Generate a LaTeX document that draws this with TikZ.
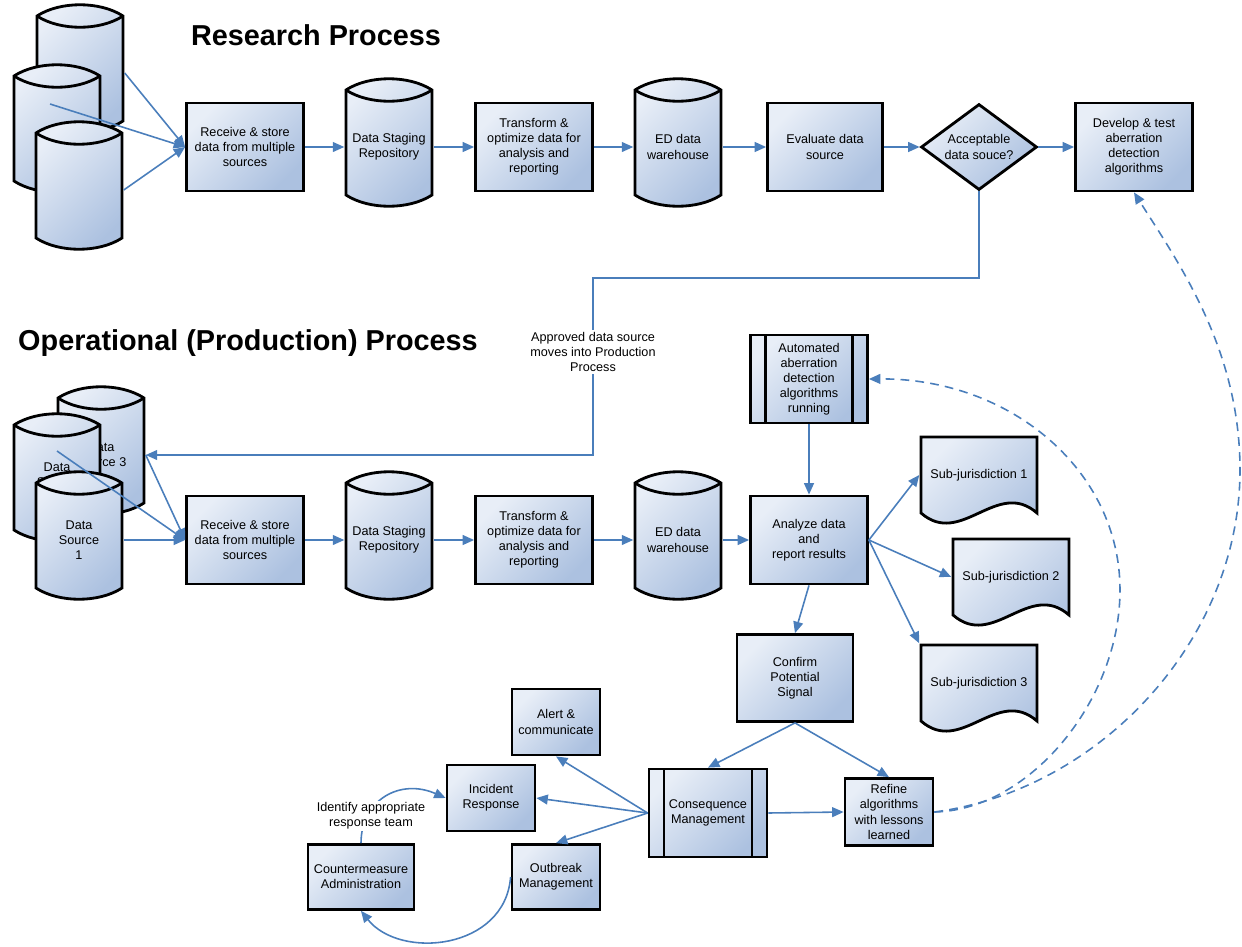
\documentclass[tikz,border=0pt]{standalone}
\usepackage{fontspec}
\setmainfont{Liberation Sans}
\usetikzlibrary{arrows.meta,shapes.geometric}

\definecolor{linkblue}{RGB}{74,126,187}
\definecolor{boxlight}{RGB}{232,238,247}
\definecolor{boxdark}{RGB}{172,193,224}
\newcommand{\boxfont}{\fontsize{7.2pt}{8.6pt}\selectfont}
\newcommand{\titlefont}{\fontsize{16.4pt}{19pt}\selectfont\bfseries}

\tikzset{
  box/.style={draw, line width=1.6pt, top color=boxlight, bottom color=boxdark,
    shading angle=45, align=center, font=\boxfont, inner sep=1pt,
    minimum width=2.34cm, minimum height=1.76cm},
  smallbox/.style={box, minimum width=1.76cm, minimum height=1.32cm},
  subproc/.style={box, path picture={
    \draw[line width=1.6pt]
      ([xshift=0.3cm]path picture bounding box.north west) -- ([xshift=0.3cm]path picture bounding box.south west)
      ([xshift=-0.3cm]path picture bounding box.north east) -- ([xshift=-0.3cm]path picture bounding box.south east);}},
  dbbody/.style={draw, line width=1.6pt, top color=boxlight, bottom color=boxdark, shading angle=45},
  dbrim/.style={draw, line width=1.6pt},
  dbtext/.style={align=center, font=\boxfont, inner sep=0pt, outer sep=1pt,
    minimum width=1.72cm, minimum height=2.2cm},
  doctext/.style={align=center, font=\boxfont, inner sep=0pt, outer sep=1pt,
    minimum width=2.32cm, minimum height=1.52cm},
  arr/.style={draw=linkblue, line width=0.9pt, -{Triangle[length=6.5pt,width=5.6pt]}},
  dasharr/.style={arr, dash pattern=on 5pt off 3.5pt},
  title/.style={font=\titlefont},
  lbl/.style={fill=white, align=center, font=\boxfont, inner sep=1pt},
}

% database cylinder: name, x, y, text
\newcommand{\dbcyl}[4]{%
  \path[dbbody,shift={(#2,#3)}] (-43,-57) .. controls (-20,-72) and (20,-72) .. (43,-57)
    -- (43,48) .. controls (20,63) and (-20,63) .. (-43,48) -- cycle;
  \path[dbrim,shift={(#2,#3)}] (-43,-57) .. controls (-20,-42) and (20,-42) .. (43,-57);
  \node[dbtext] (#1) at (#2,#3) {#4};
}
% document with wavy bottom: name, x, y, text
\newcommand{\docshape}[4]{%
  \path[dbbody,shift={(#2,#3)}] (-58,-38) -- (58,-38) -- (58,38)
    .. controls (18,3) and (-18,73) .. (-58,38) -- cycle;
  \node[doctext] (#1) at (#2,#3) {#4};
}

\begin{document}
\begin{tikzpicture}[x=0.02cm,y=-0.02cm]
  \useasboundingbox (0,0) rectangle (1242,947);
  \node[title] (resT) at (316,35) {Research Process};
  \node[title] (opT) at (248,343) {Operational (Production) Process};

  % research process
  \dbcyl{srcA}{80}{73}{}
  \dbcyl{srcB}{57}{133}{}
  \dbcyl{srcC}{79}{190}{}
  \node[box] (recvR) at (245,147) {Receive \& store\\data from multiple\\sources};
  \dbcyl{stageR}{389}{147}{Data Staging\\Repository}
  \node[box] (transR) at (534,147) {Transform \&\\optimize data for\\analysis and\\reporting};
  \dbcyl{edwR}{678}{147}{ED data\\warehouse}
  \node[box, minimum width=2.3cm] (evalR) at (825,147) {Evaluate data\\source};
  \node[box, diamond, aspect=1.35, inner sep=0pt, minimum width=2.32cm, minimum height=1.72cm] (accR) at (979,147) {Acceptable\\data souce?};
  \node[box] (devR) at (1134,147) {Develop \& test\\aberration\\detection\\algorithms};

  \coordinate (srcBout) at (50,104);
  \draw[arr] (srcA.east) -- (recvR.west);
  \draw[arr] (srcBout) -- (recvR.west);
  \draw[arr] (srcC.east) -- (recvR.west);
  \draw[arr] (recvR.east) -- (stageR.west);
  \draw[arr] (stageR.east) -- (transR.west);
  \draw[arr] (transR.east) -- (edwR.west);
  \draw[arr] (edwR.east) -- (evalR.west);
  \draw[arr] (evalR.east) -- (accR.west);
  \draw[arr] (accR.east) -- (devR.west);

  % operational process
  \dbcyl{ds3}{101}{455}{Data\\Source 3}
  \dbcyl{ds2}{57}{482}{Data\\Source\\2}
  \dbcyl{ds1}{79}{540}{Data\\Source\\1}
  \node[box] (recvP) at (245,540) {Receive \& store\\data from multiple\\sources};
  \dbcyl{stageP}{389}{540}{Data Staging\\Repository}
  \node[box] (transP) at (534,540) {Transform \&\\optimize data for\\analysis and\\reporting};
  \dbcyl{edwP}{678}{540}{ED data\\warehouse}
  \node[box] (anaP) at (809,540) {Analyze data\\and\\report results};
  \node[subproc] (autoP) at (809,379) {Automated\\aberration\\detection\\algorithms\\running};
  \docshape{sj1}{979}{475}{Sub-jurisdiction 1}
  \docshape{sj2}{1011}{577}{Sub-jurisdiction 2}
  \docshape{sj3}{979}{683}{Sub-jurisdiction 3}
  \node[box, minimum width=2.32cm, minimum height=1.74cm] (confP) at (795,678) {Confirm\\Potential\\Signal};
  \node[subproc, minimum width=2.36cm] (consP) at (708,813) {Consequence\\Management};
  \node[smallbox, minimum height=1.34cm] (refP) at (889,812) {Refine\\algorithms\\with lessons\\learned};
  \node[smallbox] (alertP) at (556,722) {Alert \&\\communicate};
  \node[smallbox] (incP) at (491,798) {Incident\\Response};
  \node[smallbox, minimum height=1.3cm] (outP) at (556,877) {Outbreak\\Management};
  \node[smallbox, minimum width=2.12cm, minimum height=1.3cm] (cmP) at (361,877) {Countermeasure\\Administration};

  \coordinate (apprTurn) at (593,278);
  \draw[arr] (accR.south) |- (apprTurn) -- (apprTurn |- ds3.east) -- (ds3.east);
  \node[lbl] (apprL) at (593,352) {Approved data source\\moves into Production\\Process};

  \coordinate (ds2out) at (57,451);
  \draw[arr] (ds2out) -- (recvP.west);
  \draw[arr] (ds3.east) -- (recvP.west);
  \draw[arr] (ds1.east) -- (recvP.west);
  \draw[arr] (recvP.east) -- (stageP.west);
  \draw[arr] (stageP.east) -- (transP.west);
  \draw[arr] (transP.east) -- (edwP.west);
  \draw[arr] (edwP.east) -- (anaP.west);
  \draw[arr] (autoP.south) -- (anaP.north);
  \draw[arr] (anaP.east) -- (sj1.west);
  \draw[arr] (anaP.east) -- (sj2.west);
  \draw[arr] (anaP.east) -- (sj3.north west);
  \draw[arr] (anaP.south) -- (confP.north);
  \draw[arr] (confP.south) -- (consP.north);
  \draw[arr] (confP.south) -- (refP.north);
  \draw[arr] (consP.east) -- (refP.west);
  \draw[arr] (consP.west) -- (alertP.south);
  \draw[arr] (consP.west) -- (incP.east);
  \draw[arr] (consP.west) -- (outP.north);
  \draw[arr] (cmP.north) .. controls (361,800) and (400,778) .. (incP.west);
  \node[lbl] (idL) at (371,816) {Identify appropriate\\response team};
  \draw[arr] (outP.west) .. controls (505,950) and (400,960) .. (cmP.south);

  % feedback from lessons learned
  \draw[dasharr] (refP.east) .. controls (1030,810) and (1120,700) .. (1120,590)
    .. controls (1120,470) and (1010,378) .. (autoP.east);
  \draw[dasharr] (refP.east) .. controls (1100,790) and (1240,640) .. (1240,470)
    .. controls (1240,350) and (1180,265) .. (devR.south);
\end{tikzpicture}
\end{document}
